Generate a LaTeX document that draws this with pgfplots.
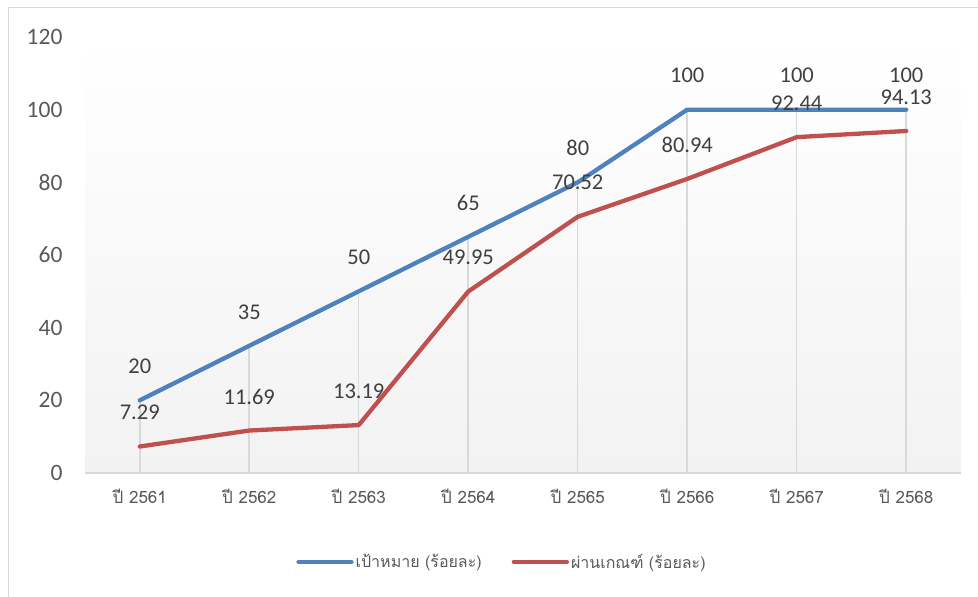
\documentclass[border=0pt]{standalone}
\usepackage{pgfplots}
\pgfplotsset{compat=1.18}
\usepackage{fontspec}
\setmainfont{Carlito}
\newfontfamily\thaifont[Script=Thai]{Loma}
\definecolor{cblue}{HTML}{4F81BD}
\definecolor{cred}{HTML}{C0504D}
\definecolor{cgrid}{HTML}{D9D9D9}
\definecolor{ctext}{HTML}{595959}
\definecolor{clabel}{HTML}{404040}
\definecolor{cbg}{HTML}{F2F2F2}
\begin{document}
\begin{tikzpicture}[x=1pt,y=1pt]
\useasboundingbox (0,0) rectangle (978,597);
\fill[white] (0,0) rectangle (978,597);
\draw[cgrid, line width=1pt] (8,0) -- (8,589) -- (978,589);
\begin{axis}[
  at={(85pt,124pt)}, anchor=south west,
  scale only axis, width=876pt, height=436pt,
  xmin=-0.5, xmax=7.5, ymin=0, ymax=120,
  xtick={0,...,7},
  xticklabels={ปี 2561,ปี 2562,ปี 2563,ปี 2564,ปี 2565,ปี 2566,ปี 2567,ปี 2568},
  ytick={0,20,...,120},
  axis line style={draw=none},
  tick style={draw=none},
  axis background/.style={shade, top color=white, bottom color=cbg},
  yticklabel style={font=\fontsize{23.5}{26}\selectfont, text=ctext, xshift=-19pt},
  xticklabel style={font=\thaifont\fontsize{17}{19}\selectfont, text=ctext, yshift=-13pt},
  /pgf/number format/assume math mode=true,
  clip=false,
  legend style={draw=none, fill=none, legend columns=2, at={(0.476,-0.204)}, anchor=center,
    font=\thaifont\fontsize{16}{19}\selectfont, text=ctext,
    /tikz/every even column/.append style={column sep=28pt}},
  legend image code/.code={\draw[#1, line cap=round] (0pt,0pt) -- (53pt,0pt);},
  every node near coord/.append style={anchor=center, yshift=34pt, font=\fontsize{22.5}{25}\selectfont, text=clabel},
]
\draw[cgrid, line width=2pt] (axis cs:-0.5,0) -- (axis cs:7.5,0);
\addplot[ycomb, cgrid, line width=1.5pt, forget plot] coordinates {
(0,20) (1,35) (2,50) (3,65) (4,80) (5,100) (6,100) (7,100)};
\addplot[cblue, line width=4.3pt, line cap=round, line join=round,
  nodes near coords] coordinates {
(0,20) (1,35) (2,50) (3,65) (4,80) (5,100) (6,100) (7,100)};
\addlegendentry{เป้าหมาย (ร้อยละ)}
\addplot[cred, line width=4.3pt, line cap=round, line join=round,
  nodes near coords={\pgfmathprintnumber[fixed,precision=2,fixed zerofill]{\pgfplotspointmeta}}] coordinates {
(0,7.29) (1,11.69) (2,13.19) (3,49.95) (4,70.52) (5,80.94) (6,92.44) (7,94.13)};
\addlegendentry{ผ่านเกณฑ์ (ร้อยละ)}
\end{axis}
\end{tikzpicture}
\end{document}
